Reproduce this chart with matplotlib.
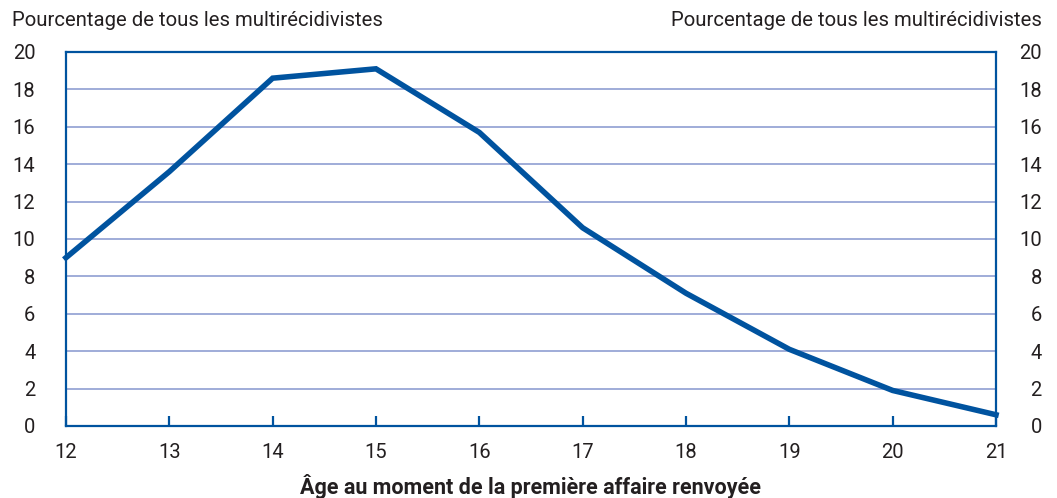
import matplotlib
matplotlib.use("Agg")
import matplotlib.pyplot as plt

# données
ages = [12, 13, 14, 15, 16, 17, 18, 19, 20, 21]
pourcentages = [9.0, 13.6, 18.6, 19.1, 15.7, 10.6, 7.1, 4.1, 1.9, 0.6]
yticks = [0, 2, 4, 6, 8, 10, 12, 14, 16, 18, 20]

titre_y = "Pourcentage de tous les multirécidivistes"
titre_x = "Âge au moment de la première affaire renvoyée"

BLEU = "#00539f"
GRILLE = "#97a6d6"
TEXTE = "#231f20"

plt.rcParams['font.family'] = ['Roboto', 'DejaVu Sans']

fig = plt.figure(figsize=(10.57, 4.98), dpi=100)
ax = fig.add_axes([0.0624, 0.1446, 0.8799, 0.7510])

ax.plot(ages, pourcentages, color=BLEU, lw=4.0, solid_joinstyle='miter', zorder=3, clip_on=False)

ax.set_xlim(12, 21)
ax.set_ylim(0, 20)
ax.set_xticks(ages)
ax.set_yticks(yticks)
for v in yticks[1:-1]:
    ax.axhline(v, color=GRILLE, lw=1.3, zorder=1)

for s in ax.spines.values():
    s.set_color(BLEU)
    s.set_linewidth(1.6)

ax.tick_params(axis='x', direction='in', length=7, width=1.6, color=BLEU,
               labelsize=14.5, labelcolor=TEXTE, pad=12)
ax.tick_params(axis='y', length=0, labelsize=14.5, labelcolor=TEXTE, pad=22)

ax2 = ax.twinx()
ax2.set_ylim(0, 20)
ax2.set_yticks(yticks)
ax2.tick_params(axis='y', length=0, labelsize=14.5, labelcolor=TEXTE, pad=33)
for lab in ax2.get_yticklabels():
    lab.set_horizontalalignment('right')
for s in ax2.spines.values():
    s.set_visible(False)

fig.text(12 / 1057, 1 - 20 / 498, titre_y, fontsize=14.6, color=TEXTE, ha='left', va='center')
fig.text(1042 / 1057, 1 - 20 / 498, titre_y, fontsize=14.6, color=TEXTE, ha='right', va='center')
ax.set_xlabel(titre_x, fontsize=15.5, fontweight='bold', color=TEXTE, labelpad=9)

fig.savefig("out.png", dpi=100)
